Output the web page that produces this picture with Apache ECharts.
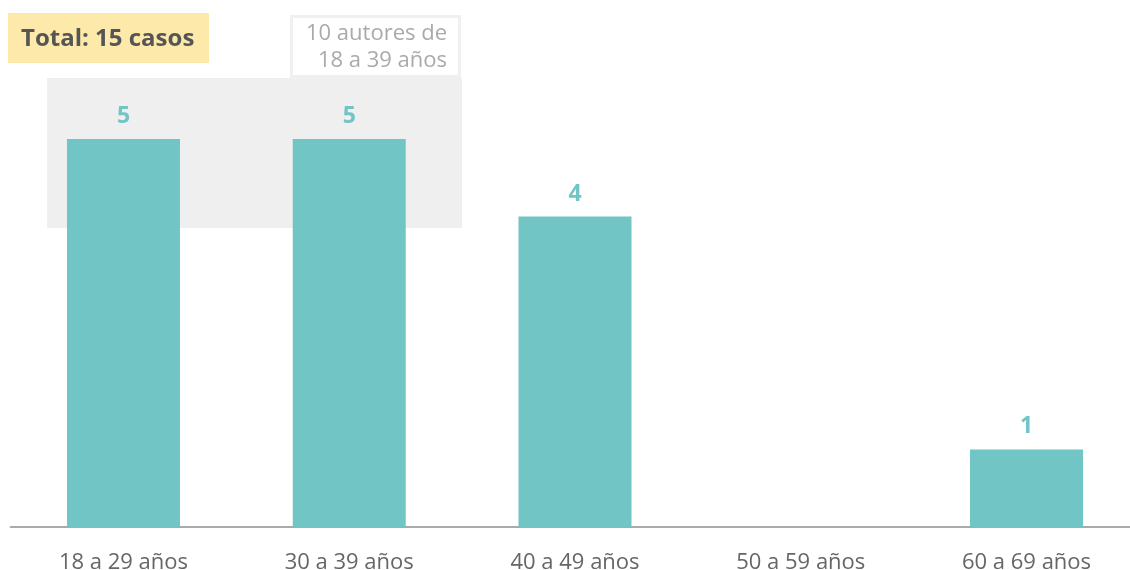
<!DOCTYPE html>
<html>
<head>
<meta charset="utf-8">
<script src="https://cdn.jsdelivr.net/npm/echarts@6/dist/echarts.min.js"></script>
<style>
  html, body { margin: 0; padding: 0; background: #fff; }
  #main { width: 1130px; height: 570px; }
</style>
</head>
<body>
<div id="main"></div>
<script>
// Data
const categories = ["18 a 29 años", "30 a 39 años", "40 a 49 años", "50 a 59 años", "60 a 69 años"];
const casos = [5, 5, 4, 0, 1];
const totalText = "Total: 15 casos";
const noteText = "10 autores de\n18 a 39 años";

let myChart = echarts.init(document.getElementById("main"));

let options = {
  animation: false,
  textStyle: { fontFamily: "Open Sans" },
  // grid runs a little past the right edge, like the original
  grid: { left: 10.6, right: -9.4, top: 139, bottom: 43, outerBoundsMode: "none" },
  xAxis: {
    type: "category",
    data: categories,
    axisLine: { lineStyle: { color: "#aaaaaa", width: 2 } },
    axisTick: { show: false },
    axisLabel: { color: "#666666", fontSize: 22, margin: 25 },
  },
  yAxis: { type: "value", min: 0, max: 5, show: false },
  graphic: [
    // shaded group behind the first two bars
    { type: "rect", z: -10, shape: { x: 47, y: 78, width: 415, height: 150 }, style: { fill: "#efefef" } },
    // annotation box
    { type: "rect", z: 10, shape: { x: 291.5, y: 16.5, width: 168, height: 60 }, style: { fill: "#ffffff", stroke: "#f0f0f0", lineWidth: 3 } },
    { type: "text", z: 11, x: 447, y: 20, style: { text: noteText, fill: "#aaaaaa", font: "22px 'Open Sans'", align: "right", lineHeight: 27 } },
    // total box
    { type: "rect", z: 10, shape: { x: 8, y: 13, width: 201, height: 50 }, style: { fill: "#fde9a9" } },
    { type: "text", z: 11, x: 21, y: 39, style: { text: totalText, fill: "#555555", font: "bold 24px 'Open Sans'", verticalAlign: "middle" } },
  ],
  series: [
    {
      name: "casos",
      type: "bar",
      data: casos,
      barWidth: 113,
      itemStyle: { color: "#72c5c5" },
      label: {
        show: true,
        position: "top",
        distance: 11,
        color: "#72c5c5",
        fontWeight: "bold",
        fontSize: 23,
        formatter: (p) => (p.value > 0 ? p.value : ""),
      },
    },
  ],
};
myChart.setOption(options);
</script>
</body>
</html>
